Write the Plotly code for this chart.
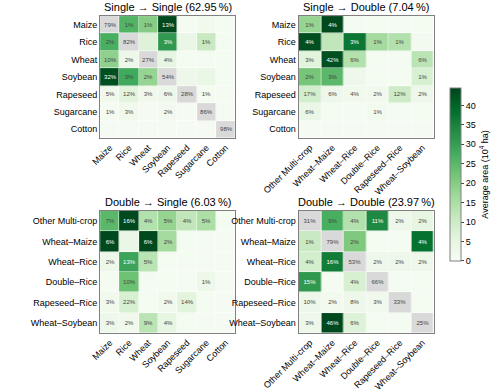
import plotly.graph_objects as go

single = ["Maize", "Rice", "Wheat", "Soybean", "Rapeseed", "Sugarcane", "Cotton"]
double = ["Other Multi-crop", "Wheat–Maize", "Wheat–Rice", "Double–Rice", "Rapeseed–Rice", "Wheat–Soybean"]

titles = ["Single → Single (62.95\u2009%)", "Single → Double (7.04\u2009%)",
          "Double → Single (6.03\u2009%)", "Double → Double (23.97\u2009%)"]

# average area (10^4 ha); None = diagonal (shown grey)
area_ss = [
    [None, 26, 20, 44, 1, 2, 1],
    [27, None, 7, 31, 4, 11, 1],
    [19, 3, None, 5, 1, 1, 1],
    [43, 28, 18, None, 3, 4, 1],
    [2, 6, 2, 3, None, 1, 0.5],
    [1, 2, 0.5, 1.5, 0.5, None, 0.5],
    [0.5, 0.5, 0.5, 0.5, 0.5, 0.5, None],
]
pct_ss = [
    ["79%", "1%", "1%", "13%", "", "", ""],
    ["2%", "82%", "", "3%", "", "1%", ""],
    ["10%", "2%", "27%", "4%", "", "", ""],
    ["32%", "3%", "2%", "54%", "", "", ""],
    ["5%", "12%", "3%", "6%", "28%", "1%", ""],
    ["1%", "3%", "", "2%", "", "86%", ""],
    ["", "", "", "", "", "", "98%"],
]

area_sd = [
    [18, 44, 1, 1, 1, 1],
    [43, 12, 37, 16, 14, 1.5],
    [6, 43, 14, 1, 1, 13],
    [22, 25, 3, 1, 1, 8],
    [9, 3, 2, 2, 10, 3],
    [4, 1, 1, 1.5, 1, 1],
    [0.5, 0.5, 0.5, 0.5, 0.5, 0.5],
]
pct_sd = [
    ["1%", "4%", "", "", "", ""],
    ["4%", "", "3%", "1%", "1%", ""],
    ["3%", "42%", "6%", "", "", "6%"],
    ["2%", "3%", "", "", "", "1%"],
    ["17%", "6%", "4%", "2%", "12%", "2%"],
    ["6%", "", "", "1%", "", ""],
    ["", "", "", "", "", ""],
]

area_ds = [
    [25, 44, 14, 18, 12, 15, 1],
    [44, 4, 44, 16, 1, 1, 0.5],
    [3, 29, 13, 1, 1, 1, 0.5],
    [1, 23, 1, 1, 1, 3, 0.5],
    [2, 8, 1, 2, 6, 1, 0.5],
    [3, 2, 13, 5, 1, 1, 0.5],
]
pct_ds = [
    ["7%", "16%", "4%", "5%", "4%", "5%", ""],
    ["6%", "", "6%", "2%", "", "", ""],
    ["2%", "13%", "5%", "", "", "", ""],
    ["", "10%", "", "", "", "1%", ""],
    ["3%", "22%", "", "2%", "14%", "", ""],
    ["3%", "2%", "9%", "4%", "", "", ""],
]

area_dd = [
    [None, 27, 14, 34, 3, 5],
    [11, None, 21, 1, 1, 38],
    [9, 36, None, 3, 3, 3],
    [31, 1, 8, None, 1, 1],
    [3, 1.5, 3, 2, None, 1],
    [3, 44, 7, 1, 1, None],
]
pct_dd = [
    ["31%", "9%", "4%", "11%", "2%", "2%"],
    ["1%", "79%", "2%", "", "", "4%"],
    ["4%", "16%", "53%", "2%", "2%", "2%"],
    ["15%", "", "4%", "66%", "", ""],
    ["10%", "2%", "8%", "3%", "33%", ""],
    ["3%", "46%", "6%", "", "", "25%"],
]

greens = [[0.0, "#f7fcf5"], [0.125, "#e5f5e0"], [0.25, "#c7e9c0"], [0.375, "#a1d99b"],
          [0.5, "#74c476"], [0.625, "#41ab5d"], [0.75, "#238b45"], [0.875, "#006d2c"],
          [1.0, "#00441b"]]

FONT = "Liberation Sans, Arial, sans-serif"
panels = [
    (area_ss, pct_ss, single, single, True),
    (area_sd, pct_sd, double, single, False),
    (area_ds, pct_ds, single, double, False),
    (area_dd, pct_dd, double, double, True),
]
x_domains = [(0.146, 0.454), (0.598, 0.906), (0.146, 0.454), (0.598, 0.906)]
y_domains = [(0.648, 0.959), (0.648, 0.959), (0.1505, 0.4617), (0.1505, 0.4617)]

fig = go.Figure()
annotations = []
layout_axes = {}
for i, (area, pct, cols, rows, diag) in enumerate(panels):
    xa = "x" if i == 0 else f"x{i+1}"
    ya = "y" if i == 0 else f"y{i+1}"
    z = [[(None if (diag and r == c) else area[r][c]) for c in range(len(cols))] for r in range(len(rows))]
    t = [[("" if (diag and r == c) else pct[r][c]) for c in range(len(cols))] for r in range(len(rows))]
    fig.add_trace(go.Heatmap(
        z=z, x=cols, y=rows, text=t, texttemplate="%{text}",
        textfont=dict(size=6, family=FONT), coloraxis="coloraxis",
        xgap=0.5, ygap=0.5, xaxis=xa, yaxis=ya, hoverongaps=False))
    if diag:
        zd = [[(1 if r == c else None) for c in range(len(cols))] for r in range(len(rows))]
        td = [[(pct[r][c] if r == c else "") for c in range(len(cols))] for r in range(len(rows))]
        fig.add_trace(go.Heatmap(
            z=zd, x=cols, y=rows, text=td, texttemplate="%{text}",
            textfont=dict(size=6, family=FONT, color="#444"),
            colorscale=[[0, "#d9d9d9"], [1, "#d9d9d9"]], showscale=False, zmin=0, zmax=1,
            xgap=0.5, ygap=0.5, xaxis=xa, yaxis=ya, hoverongaps=False))
    xk = "xaxis" if i == 0 else f"xaxis{i+1}"
    yk = "yaxis" if i == 0 else f"yaxis{i+1}"
    layout_axes[xk] = dict(domain=list(x_domains[i]), anchor=ya, showgrid=False, zeroline=False,
                           showline=True, mirror=True, linecolor="#808080", linewidth=1,
                           ticks="", tickangle=-45, tickfont=dict(size=9, color="black", family=FONT))
    layout_axes[yk] = dict(domain=list(y_domains[i]), anchor=xa, showgrid=False, zeroline=False,
                           showline=True, mirror=True, linecolor="#808080", linewidth=1,
                           ticks="", autorange="reversed", tickfont=dict(size=9, color="black", family=FONT))
    annotations.append(dict(text=titles[i], x=sum(x_domains[i]) / 2, y=y_domains[i][1] + 1.5 / 392,
                            xref="paper", yref="paper", xanchor="center", yanchor="bottom",
                            showarrow=False, font=dict(size=11, color="black", family=FONT)))

fig.update_layout(
    width=500, height=392, margin=dict(l=0, r=0, t=0, b=0),
    paper_bgcolor="white", plot_bgcolor="white",
    font=dict(family=FONT, color="black"),
    annotations=annotations,
    coloraxis=dict(colorscale=greens, cmin=0, cmax=44.5,
                   colorbar=dict(x=0.92, xanchor="left", y=0.555, yanchor="middle",
                                 len=0.492, lenmode="fraction", thickness=11, thicknessmode="pixels",
                                 outlinecolor="#808080", outlinewidth=1, ticks="outside", ticklen=3,
                                 tickvals=[0, 5, 10, 15, 20, 25, 30, 35, 40],
                                 tickfont=dict(size=9, family=FONT),
                                 title=dict(text="Average area (10<sup>4</sup> ha)", side="right",
                                            font=dict(size=9, family=FONT)))),
    **layout_axes,
)
fig.write_html("out.html")
